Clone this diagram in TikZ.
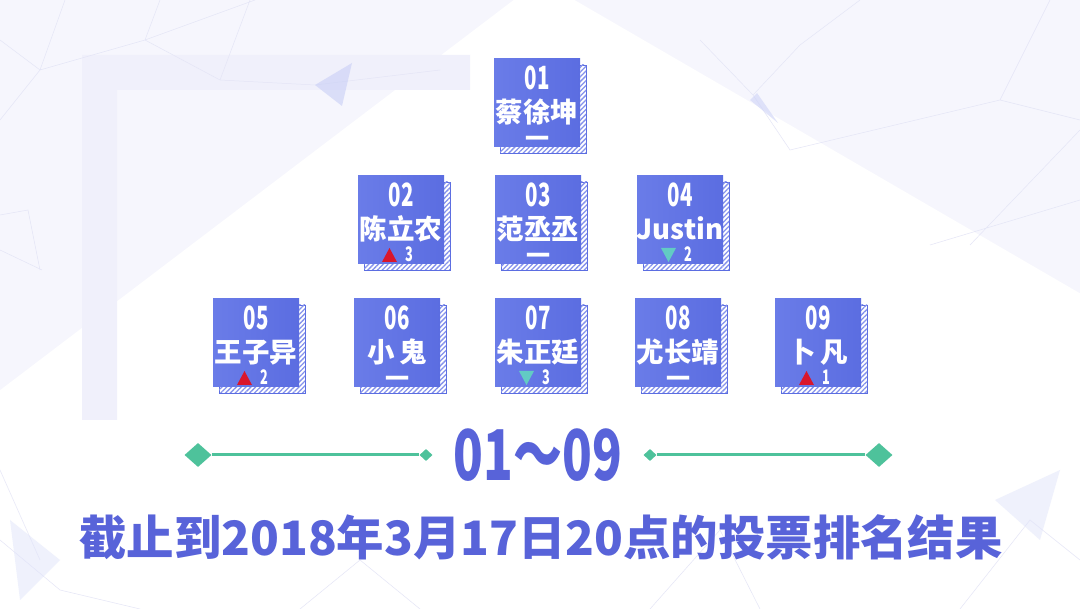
\documentclass[tikz,border=0pt]{standalone}
\usepackage{fontspec}
\newfontfamily\cjk{Noto Sans CJK SC}
\usetikzlibrary{patterns.meta,shapes.geometric}
\definecolor{facebl}{HTML}{5B6DE1}
\definecolor{facebllt}{HTML}{6A7CE8}
\definecolor{hatchbl}{HTML}{8592EC}
\definecolor{upred}{HTML}{D9162C}
\definecolor{downteal}{HTML}{62CBC4}
\definecolor{linegreen}{HTML}{4EC29B}
\definecolor{titlebl}{HTML}{5863D9}
\definecolor{bglav}{HTML}{F6F6FD}
\definecolor{netline}{HTML}{E4E5F6}
\definecolor{markfaint}{HTML}{F0F0FB}
\tikzset{
  facebox/.style={left color=facebllt,right color=facebl},
  hatchbox/.style={draw=facebl,line width=0.8pt,fill=white,
    postaction={pattern={Lines[angle=45,distance=3.4pt,line width=1.3pt]},pattern color=hatchbl}},
  numtxt/.style={text=white,font=\cjk\bfseries\fontsize{32}{32}\selectfont,xscale=0.64,inner sep=0pt,
    anchor=base,text height=0.72em,text depth=0pt},
  nametxt/.style={text=white,font=\cjk\bfseries\fontsize{27.5}{27.5}\selectfont,inner sep=0pt,
    anchor=base,text height=0.86em,text depth=0.1em},
  dashtxt/.style={text=white,font=\cjk\bfseries\fontsize{24}{24}\selectfont,inner sep=0pt,
    anchor=base,text height=0.44em,text depth=-0.32em},
  smalltxt/.style={text=white,font=\cjk\bfseries\fontsize{20}{20}\selectfont,xscale=0.64,inner sep=0pt,
    anchor=base,text height=0.72em,text depth=0pt},
  bigdia/.style={fill=linegreen,shape=diamond,minimum width=27pt,minimum height=24pt,inner sep=0pt},
  smalldia/.style={fill=linegreen,shape=diamond,minimum width=13pt,minimum height=12pt,inner sep=0pt},
}
\newcommand{\rankbox}[6]{%
  \begin{scope}[shift={(#2,#3)}]
    \def\boxid{#1}
    \path[hatchbox] (-37,-38) rectangle (49,50);
    \fill[facebox] (-43,-44) rectangle (43,44);
    \node[numtxt] (#1-num) at (0,-13) {#4};
    \node[nametxt] (#1-name) at (0,20) {#5};
    #6
  \end{scope}}
\newcommand{\samemark}{\node[dashtxt] (\boxid-mk) at (0,45) {一};}
\newcommand{\upmark}[1]{%
  \fill[upred] (-19,42) -- (-4,42) -- (-11.5,28) -- cycle;
  \node[smalltxt] (\boxid-mk) at (8,42) {#1};}
\newcommand{\downmark}[1]{%
  \fill[downteal] (-19,28) -- (-4,28) -- (-11.5,42) -- cycle;
  \node[smalltxt] (\boxid-mk) at (8,42) {#1};}
\begin{document}
\begin{tikzpicture}[x=1pt,y=-1pt]
\fill[bglav] (0,0) rectangle (1080,609);
\useasboundingbox (0,0) rectangle (1080,609);
\fill[white] (540,-20) -- (1624,609) -- (-288,609) -- cycle;
% faint logo and network in the back
\fill[markfaint] (82,55) rectangle (470,90) (82,90) rectangle (117,420);
\draw[netline,line width=0.5pt] (0,40) -- (40,70) -- (145,40) -- (220,80) -- (315,85) -- (440,70)
  (65,0) -- (40,70) -- (0,120) (160,0) -- (145,40) -- (255,0) (220,80) -- (250,0)
  (0,215) -- (28,210) -- (40,270) (0,250) -- (42,270) (860,0) -- (800,45) -- (753,95) -- (700,40)
  (753,95) -- (790,150) -- (1000,100) -- (1080,120) (1000,100) -- (1050,0) (970,245) -- (1080,130)
  (930,245) -- (1080,200) (0,540) -- (60,590) -- (140,609) (0,470) -- (40,560) (960,609) -- (1030,520) -- (1080,560)
  (300,609) -- (360,560) -- (420,609) (650,609) -- (720,530) -- (760,609);
\fill[hatchbl!45,opacity=0.6] (315,85) -- (352,63) -- (342,106) -- cycle;
\fill[hatchbl!40,opacity=0.6] (750,100) -- (757,93) -- (778,123) -- cycle;
\fill[hatchbl!25,opacity=0.5] (995,500) -- (1060,470) -- (1040,540) -- cycle;
\fill[hatchbl!25,opacity=0.5] (10,520) -- (60,560) -- (20,600) -- cycle;
% ranking boxes
\rankbox{r01}{537}{103}{01}{蔡徐坤}{\samemark}
\rankbox{r02}{401}{220}{02}{陈立农}{\upmark{3}}
\rankbox{r03}{538}{220}{03}{范丞丞}{\samemark}
\rankbox{r04}{680}{220}{04}{Justin}{\downmark{2}}
\rankbox{r05}{256}{343}{05}{王子异}{\upmark{2}}
\rankbox{r06}{397}{343}{06}{小\,鬼}{\samemark}
\rankbox{r07}{538}{343}{07}{朱正廷}{\downmark{3}}
\rankbox{r08}{678}{343}{08}{尤长靖}{\samemark}
\rankbox{r09}{818}{343}{09}{卜\,凡}{\upmark{1}}
% range line
\node[text=titlebl,font=\cjk\bfseries\fontsize{70}{70}\selectfont,xscale=0.7,inner sep=0pt] (range) at (538,455) {01～09};
\node[bigdia] (ldia) at (198,455) {};
\node[smalldia] (lend) at (426,455) {};
\node[smalldia] (rend) at (650,455) {};
\node[bigdia] (rdia) at (879,455) {};
\draw[linegreen,line width=3pt] (ldia) -- (lend);
\draw[linegreen,line width=3pt] (rend) -- (rdia);
\node[text=titlebl,font=\cjk\bfseries\fontsize{47.4}{47.4}\selectfont,inner sep=0pt] (caption) at (541,537) {截止到2018年3月17日20点的投票排名结果};
\end{tikzpicture}
\end{document}
